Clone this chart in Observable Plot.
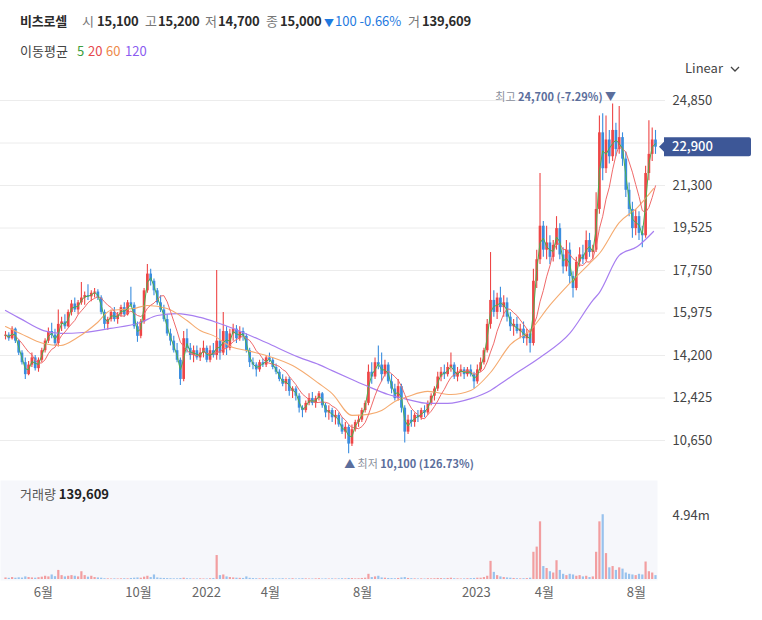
<!DOCTYPE html>
<html><head><meta charset="utf-8">
<script src="https://cdn.jsdelivr.net/npm/d3@7"></script>
<script src="https://cdn.jsdelivr.net/npm/@observablehq/plot@0.6"></script>
<style>
body{margin:0;background:#fff;font-family:"Noto Sans CJK KR","Noto Sans",sans-serif;}
#wrap{position:relative;width:762px;height:620px;overflow:hidden;}
.t{position:absolute;white-space:nowrap;line-height:1;font-size:13px;}
.g{color:#777;} .b{color:#2b2b2b;font-weight:700;letter-spacing:-0.2px;}
#price{position:absolute;left:0;top:60px;}
#vol{position:absolute;left:0;top:478px;}
</style></head><body>
<div id="wrap">
  <div id="vol"></div>
  <div id="price"></div>
</div>
<script>
// ---- data (3 trading days per candle, won) ----
const open = [15000,15050,14900,15300,14800,14300,13900,13400,13800,14100,
13650,14000,14400,14800,15200,15050,14700,15500,15600,15400,
16000,16350,16100,16400,16600,16700,16650,16800,16850,16600,
16000,15500,15700,16000,15700,15900,16200,15900,16400,16300,
15400,15000,15600,16900,17600,17300,16900,16400,16100,15700,
15100,14800,14400,14000,13200,14900,14500,14200,14400,14100,
14300,14500,14000,14400,14200,14800,14300,15200,14500,15100,
15300,14900,15200,15000,14400,13900,13800,13600,13900,13800,
14100,14000,13700,13500,13200,13000,13200,12700,12800,12500,
12000,11900,12200,12400,12200,12400,12600,12100,11800,11900,
11600,11700,11300,11000,11200,10500,11100,11400,11500,11900,
12200,13500,13300,13900,13800,13400,13800,13100,12800,12400,
12900,12000,11000,11500,11400,11700,11600,11900,11800,12200,
12500,12800,13300,13500,13400,13700,13800,13300,13500,13600,
13400,13600,13400,13100,13600,13900,14400,15500,16500,16000,
16600,16200,16400,15800,15400,15500,15200,15300,14900,15100,
14700,17300,18200,19600,18600,18900,18300,18800,19500,18400,
17900,18600,17500,17000,18100,18400,18200,19000,18500,18600,
20300,23500,22000,23200,22500,23600,22800,23300,22400,21100,
20300,19500,20000,19300,19200,21800,22600,23200];
const high = [15200,15150,15400,15350,14850,14400,14100,13950,14300,14200,
14100,14500,14900,15350,15550,15300,16100,15800,15900,16100,
16500,16600,16500,17250,16850,17150,16900,17000,16950,16700,
16100,15800,16100,16200,16000,16300,16400,16500,17050,16400,
15600,15700,17000,18000,17800,17400,17000,16700,16300,15900,
15300,15000,14700,14100,15200,15300,14700,14600,14600,14500,
14800,14600,14600,14700,17750,15300,16000,15400,15300,15500,
15450,15400,15350,15100,14500,14100,13900,14000,14050,14200,
14300,14100,13850,13600,13400,13300,13300,12900,12900,12600,
12100,12300,12600,12650,12500,12700,12650,12200,12100,12000,
11900,11800,11600,11400,11300,11300,11500,11700,12000,12300,
13800,13900,14100,14600,14300,14000,13900,13400,13000,13200,
13000,12100,11700,11900,11800,11900,12000,12100,12300,12600,
12900,13500,13700,13800,13900,14300,13900,13700,13800,13700,
13700,13800,13500,13800,14100,14500,15700,18500,16900,16800,
17050,16700,16600,16000,15700,15800,15500,15600,15300,15300,
17800,18600,21800,19800,19600,19200,19000,20000,19700,18700,
19000,18900,17700,18300,18700,18800,19400,19300,18800,21000,
24200,24300,24200,23600,24700,23900,24600,23500,22700,21400,
20600,20300,20200,19600,22100,24000,23700,23600];
const low = [14850,14800,14850,14700,14200,13800,13200,13350,13700,13550,
13500,13900,14300,14700,14900,14600,14550,15200,15300,15350,
15850,16000,15900,16300,16300,16500,16450,16600,16500,15900,
15300,15250,15600,15600,15500,15800,15800,15850,16200,15300,
14750,14900,15500,16800,17100,16700,16300,16000,15600,15000,
14600,14300,13900,12950,13100,14300,14000,13900,14000,13950,
14100,13900,13900,14100,14000,14000,14200,14200,14400,14800,
14700,14800,14800,14300,13700,13600,13300,13500,13700,13700,
13900,13600,13400,13100,12900,12700,12500,12400,12300,11800,
11600,11800,12100,12100,12000,12300,12000,11600,11500,11400,
11300,11200,10900,10700,10100,10400,11000,11200,11400,11800,
12100,13000,13200,13600,13100,13300,13000,12600,12300,12300,
11800,10550,10900,11200,11200,11400,11500,11600,11700,12100,
12300,12700,13100,13200,13300,13500,13200,13100,13300,13200,
13300,13300,12800,13000,13500,13800,14300,15300,15800,15700,
16000,15800,15600,15200,15000,15100,14900,14700,14600,14300,
14600,17000,18000,18300,18200,18000,18100,18600,18200,17600,
17700,17200,16600,16900,17900,18000,18100,18300,18200,18500,
20100,21500,21800,22200,22300,22500,22600,22100,20800,20000,
19100,19200,19000,18700,19100,21500,22300,22600];
const close = [15050,14900,15300,14800,14300,13900,13400,13800,14100,13650,
14000,14400,14800,15200,15050,14700,15500,15600,15400,16000,
16350,16100,16400,16600,16700,16650,16800,16850,16600,16000,
15500,15700,16000,15700,15900,16200,15900,16400,16300,15400,
15000,15600,16900,17600,17300,16900,16400,16100,15700,15100,
14800,14400,14000,13200,14900,14500,14200,14400,14100,14300,
14500,14000,14400,14200,14800,14300,15200,14500,15100,15300,
14900,15200,15000,14400,13900,13800,13600,13900,13800,14100,
14000,13700,13500,13200,13000,13200,12700,12800,12500,12000,
11900,12200,12400,12200,12400,12600,12100,11800,11900,11600,
11700,11300,11000,11200,10500,11100,11400,11500,11900,12200,
13500,13300,13900,13800,13400,13800,13100,12800,12400,12900,
12000,11000,11500,11400,11700,11600,11900,11800,12200,12500,
12800,13300,13500,13400,13700,13800,13300,13500,13600,13400,
13600,13400,13100,13600,13900,14400,15500,16500,16000,16600,
16200,16400,15800,15400,15500,15200,15300,14900,15100,14700,
17300,18200,19600,18600,18900,18300,18800,19500,18400,17900,
18600,17500,17000,18100,18400,18200,19000,18500,18600,20300,
23500,22000,23200,22500,23600,22800,23300,22400,21100,20300,
19500,20000,19300,19200,21800,22600,23200,22900];
// volume, thousand shares
const volume = [120,90,150,100,130,110,200,150,120,100,
140,180,250,200,350,220,700,300,200,250,
300,250,200,600,300,180,250,150,120,100,
60,50,40,50,40,50,60,50,80,100,
120,100,180,250,150,350,120,90,80,70,
60,50,50,70,100,60,50,40,40,50,
40,40,60,80,1850,300,350,200,150,120,
100,90,80,200,90,70,60,50,60,50,
50,60,40,50,60,40,50,60,40,50,
60,50,40,40,50,60,40,50,40,50,
40,50,60,50,80,70,50,60,80,100,
400,150,200,250,120,100,80,70,60,80,
120,150,80,60,50,40,50,40,60,50,
60,80,70,60,80,100,60,50,40,50,
60,70,80,100,100,150,250,1400,550,300,
200,150,120,100,80,60,50,60,70,100,
2100,2500,4450,1000,850,600,500,1450,700,400,
300,400,350,250,300,200,250,150,200,2100,
4450,5000,2000,900,1000,700,900,800,500,400,
350,300,400,350,1350,600,500,300];
// 60-day and 120-day moving averages (candle index, won)
const ma60Idx = [0,4.5,11.5,16.7,21.8,27.9,31.8,38.8,43,49,55,59,63,69,73,80,87,95,99,105,110,114,118,122,128,135,141,147,153,159,165,171,177,180,186,191.5,196.4];
const ma60Val = [15410,15120,14700,14620,14950,15580,16080,16160,16290,16160,15660,15240,15030,14530,14410,14160,13780,13030,12610,11700,11740,11900,12280,12490,12700,12570,12740,13490,14650,15240,16300,17210,18040,18460,19750,20380,21170];
const ma120Idx = [0,4.5,11.5,16.7,23.6,31.8,40.9,46,52,59,64,69,79,89,95,99,105,110,116,122,128,134,141,147,151.5,156,162,171,178,180,186,191.5,196.4];
const ma120Val = [16080,15740,15240,15120,15160,15330,15580,15870,15950,15790,15580,15330,14740,14120,13820,13570,13200,12900,12570,12360,12200,12200,12400,12740,13160,13570,14120,15120,16500,16830,18380,18750,19380];
const gridTicks = [10650,12425,14200,15975,17750,19525,21300,23075,24850];
const labelTicks = [10650,12425,14200,15975,17750,19525,21300,24850];
const volTicks = [4940];
const volTickLabels = ["4.94m"];
const monthPos = [11.5,40.3,60.9,80.3,108.2,142.7,163.3,191.2];
const monthLabels = ["6월","10월","2022","4월","8월","2023","4월","8월"];

const FONT = '"Noto Sans CJK KR","Noto Sans",sans-serif';
const UP = "#ee4646", DOWN = "#3a8ddf";
const candles = close.map((c, i) => ({i, o: open[i], h: high[i], l: low[i], c, v: volume[i]}));
const col = d => d.c >= d.o ? UP : DOWN;
const ma60 = ma60Idx.map((i, k) => ({i, v: ma60Val[k]}));
const ma120 = ma120Idx.map((i, k) => ({i, v: ma120Val[k]}));
const n = close.length;

const price = Plot.plot({
  width: 762, height: 420,
  marginLeft: 0, marginRight: 97, marginTop: 0, marginBottom: 0,
  x: {type: "linear", domain: [0, n - 1], range: [5, 655], axis: null, label: null},
  y: {domain: [10650, 24850], range: [380, 40], axis: null, label: null},
  style: {fontFamily: FONT, fontSize: "13px", background: "transparent", overflow: "visible"},
  marks: [
    Plot.gridY(gridTicks, {stroke: "#ececec", strokeOpacity: 1}),
    Plot.axisY(labelTicks, {anchor: "right", tickSize: 0, tickPadding: 7, tickFormat: d3.format(","), fill: "#444", fontSize: 13, label: null}),
    Plot.ruleX(candles, {x: "i", y1: "l", y2: "h", stroke: col, strokeWidth: 1.1}),
    Plot.ruleX(candles, {x: "i", y1: "o", y2: "c", stroke: col, strokeWidth: 2.7}),
    Plot.line(ma120, {x: "i", y: "v", stroke: "#a77ef0", strokeWidth: 1.2, curve: "monotone-x"}),
    Plot.line(ma60, {x: "i", y: "v", stroke: "#f5ab70", strokeWidth: 1.1, curve: "monotone-x"}),
    Plot.lineY(candles, Plot.windowY({k: 7, anchor: "end"}, {x: "i", y: "c", stroke: "#f06a6a", strokeWidth: 1})),
    Plot.lineY(candles, Plot.windowY({k: 2, anchor: "end"}, {x: "i", y: "c", stroke: "#4caf50", strokeWidth: 1}))
  ]
});
document.getElementById("price").appendChild(price);

// annotations placed with the chart's own scales
{
  const xs = price.scale("x"), ys = price.scale("y");
  const svg = d3.select(price);
  const fmt = d3.format(",");
  const last = close[n - 1];
  const hi = d3.maxIndex(high), lo = d3.minIndex(low);
  const tHi = svg.append("text").attr("x", xs.apply(hi) + 4).attr("y", ys.apply(high[hi]) - 3)
    .attr("text-anchor", "end").attr("font-size", 11).attr("font-family", FONT);
  tHi.append("tspan").attr("fill", "#8a8f9c").text("최고 ");
  tHi.append("tspan").attr("fill", "#5b6e9c").attr("font-weight", 600)
    .text(`${fmt(high[hi])} (${((last / high[hi] - 1) * 100).toFixed(2)}%) ▼`);
  const tLo = svg.append("text").attr("x", xs.apply(lo) - 4).attr("y", ys.apply(low[lo]) + 15)
    .attr("text-anchor", "start").attr("font-size", 11).attr("font-family", FONT);
  tLo.append("tspan").attr("fill", "#5b6e9c").text("▲ ");
  tLo.append("tspan").attr("fill", "#8a8f9c").text("최저 ");
  tLo.append("tspan").attr("fill", "#5b6e9c").attr("font-weight", 600)
    .text(`${fmt(low[lo])} (${((last / low[lo] - 1) * 100).toFixed(2)}%)`);
  const yy = ys.apply(last);
  svg.append("path").attr("fill", "#3d5797")
    .attr("d", `M659,${yy} L664,${yy - 5} L664,${yy - 9.5} L749,${yy - 9.5} Q751,${yy - 9.5} 751,${yy - 7.5} L751,${yy + 7.5} Q751,${yy + 9.5} 749,${yy + 9.5} L664,${yy + 9.5} L664,${yy + 5} Z`);
  svg.append("text").attr("x", 672).attr("y", yy).attr("dy", "0.36em").attr("fill", "#ffffff")
    .attr("text-anchor", "start")
    .attr("font-size", 13).attr("font-weight", 500).attr("font-family", FONT).text(fmt(last));
}

const vol = Plot.plot({
  width: 762, height: 130,
  marginLeft: 0, marginRight: 105, marginTop: 2, marginBottom: 28,
  x: {type: "linear", domain: [0, n - 1], range: [5, 655], label: null},
  y: {domain: [0, 4940], range: [101, 37], axis: null, label: null},
  style: {fontFamily: FONT, fontSize: "13px", background: "transparent", overflow: "visible"},
  marks: [
    Plot.frame({fill: "#f6f7fb", stroke: null}),
    Plot.ruleX(candles, {x: "i", y1: 0, y2: "v", stroke: col, strokeWidth: 2.2, strokeOpacity: 0.5}),
    Plot.axisX(monthPos, {anchor: "bottom", tickSize: 0, tickPadding: 7, tickFormat: d => monthLabels[monthPos.indexOf(d)], fill: "#666", fontSize: 13, label: null}),
    Plot.axisY(volTicks, {anchor: "right", tickSize: 0, tickPadding: 15, tickFormat: d => volTickLabels[volTicks.indexOf(d)], fill: "#444", fontSize: 13, label: null})
  ]
});
document.getElementById("vol").appendChild(vol);

// header & overlays (HTML text)
const wrap = document.getElementById("wrap");
function put(x, y, html, cls) {
  const s = document.createElement("div");
  s.className = "t " + (cls || "");
  s.style.left = x + "px"; s.style.top = (y - 7) + "px";
  s.innerHTML = html; wrap.appendChild(s);
}
put(20, 21, "비츠로셀", "b");
put(82, 21, "시", "g"); put(97, 21, "15,100", "b");
put(145, 21, "고", "g"); put(158, 21, "15,200", "b");
put(205, 21, "저", "g"); put(218, 21, "14,700", "b");
put(266, 21, "종", "g"); put(280, 21, "15,000", "b");
put(324, 22, '<span style="color:#1f7ae0;font-size:10px">▼</span>');
put(335, 21, '<span style="color:#1f7ae0">100 -0.66%</span>');
put(408, 21, "거", "g"); put(422, 21, "139,609", "b");
put(20, 51, '<span style="color:#444">이동평균</span>');
put(77, 51, '<span style="color:#3c9e3c">5</span>');
put(88, 51, '<span style="color:#e5484d">20</span>');
put(106, 51, '<span style="color:#ee8a4a">60</span>');
put(125, 51, '<span style="color:#8b5cf0">120</span>');
put(685, 68, '<span style="color:#444;font-size:13px">Linear</span><svg width="10" height="7" style="margin-left:7px;vertical-align:middle"><polyline points="1,1 5,5 9,1" fill="none" stroke="#444" stroke-width="1.3"/></svg>');
put(20, 494, '<span style="color:#555;font-size:13px">거래량 </span><span style="color:#222;font-weight:700;font-size:13px">139,609</span>');
</script>
</body></html>
